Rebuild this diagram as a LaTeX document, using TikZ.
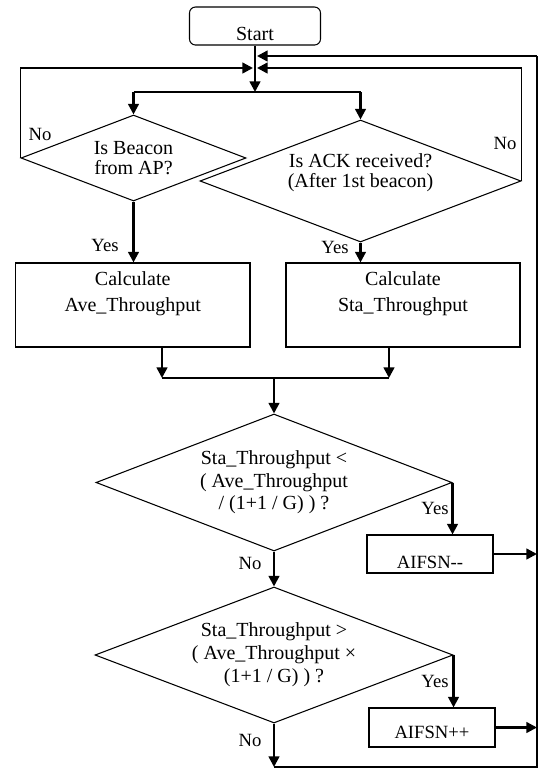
\documentclass[tikz,border=0pt]{standalone}
\usepackage{fontspec}
\setmainfont{Liberation Serif}
\usetikzlibrary{shapes.geometric,arrows.meta}

\tikzset{
  flow/.style={line width=1.8pt,-{Triangle[length=8pt,width=8pt]}},
  link/.style={line width=0.9pt},
  decision/.style={diamond,draw,line width=0.8pt,inner sep=0pt,aspect=2.6,align=center},
  calcbox/.style={rectangle,draw,line width=0.8pt,align=center},
  startbox/.style={rectangle,draw,rounded corners=4.5pt,line width=0.8pt,inner sep=0pt,text height=21pt,text depth=0pt},
  lbl/.style={inner sep=0pt,font=\fontsize{14}{14}\selectfont}
}

\begin{document}
\begin{tikzpicture}[x=0.75pt,y=0.75pt,yscale=-1,xscale=1,font=\fontsize{15}{15}\selectfont]
\useasboundingbox (0,0) rectangle (539,769);

%Shape: Rounded Rect
\node[startbox,minimum width=98.25pt,minimum height=28.5pt] (start) at (255,26) {Start};
%Shape: Diamond
\node[decision,minimum width=168.75pt,minimum height=64.5pt] (beacon) at (133.5,158) {Is Beacon\\[-0.5pt]from AP?};
\node[decision,minimum width=240.75pt,minimum height=91.5pt] (ack) at (360.5,181) {Is ACK received?\\(After 1st beacon)\\~};
%Shape: Rectangle
\node[calcbox,minimum width=175.9pt,minimum height=63pt] (avecalc) at (132.75,305) {Calculate\\[4.5pt]Ave\_Throughput\\[4.5pt]~};
\node[calcbox,minimum width=175.5pt,minimum height=63pt] (stacalc) at (403,305) {Calculate\\[4.5pt]Sta\_Throughput\\[4.5pt]~};
%Shape: Diamond
\node[decision,minimum width=267pt,minimum height=102.75pt] (lower) at (274,482.5) {Sta\_Throughput <\\[1.9pt]( Ave\_Throughput\\[1.9pt]/ (1+1 / G) ) ?};
\node[decision,minimum width=268.5pt,minimum height=102pt] (upper) at (274,655) {Sta\_Throughput >\\[2.2pt]( Ave\_Throughput ×\\[2.2pt](1+1 / G) ) ?};
%Shape: Rectangle
\node[calcbox,minimum width=94.5pt,minimum height=28.5pt,inner sep=0pt,text height=21pt,text depth=0pt,font=\fontsize{14}{14}\selectfont] (dec) at (430,554) {AIFSN-{}-};
\node[calcbox,minimum width=94.5pt,minimum height=29.25pt,inner sep=0pt,text height=16pt,text depth=0pt,font=\fontsize{14}{14}\selectfont] (inc) at (432,727.5) {AIFSN++};

% junctions
\coordinate (split) at (255,92);
\coordinate (mergeL) at (253,68);
\coordinate (mergeR) at (257,68);
\coordinate (mergeTop) at (257,56);
\coordinate (loopTop) at (537,56);
\coordinate (loopEnd) at (274,767);
\coordinate (join) at (274,378);
\coordinate (aveout) at (162,347);
\coordinate (staout) at (389,347);

%Straight Lines
\draw[flow] (start.south) -- (split);
\draw[link] (beacon.north |- split) -- (ack.north |- split);
\draw[flow] (beacon.north |- split) -- (beacon.north);
\draw[flow] (ack.north |- split) -- (ack.north);
% No loops back to the top
\draw[link] (beacon.west) -- (beacon.west |- mergeL);
\draw[flow] (beacon.west |- mergeL) -- (mergeL);
\draw[link] (ack.east) -- (ack.east |- mergeR);
\draw[flow] (ack.east |- mergeR) -- (mergeR);
%Straight Lines
\draw[flow] (beacon.south) -- (beacon.south |- avecalc.north);
\draw[flow] (ack.south) -- (ack.south |- stacalc.north);
\draw[flow] (aveout) -- (aveout |- join);
\draw[flow] (staout) -- (staout |- join);
\draw[link] (aveout |- join) -- (staout |- join);
\draw[flow] (join) -- (lower.north);
\draw[flow] (lower.east) -- (lower.east |- dec.north);
\draw[flow] (lower.south) -- (upper.north);
\draw[flow] (upper.east) -- (upper.east |- inc.north);
\draw[flow] (upper.south) -- (loopEnd);
\draw[flow] (dec.east) -- (dec.east -| loopTop);
\draw[flow] (inc.east) -- (inc.east -| loopTop);
% outer loop
\draw[link] (loopEnd) -- (loopEnd -| loopTop) -- (loopTop);
\draw[flow] (loopTop) -- (mergeTop);

% Text Node
\node[lbl] (yesA) at (105,245) {Yes};
\node[lbl] (yesB) at (335,247) {Yes};
\node[lbl] (noA) at (40,134) {No};
\node[lbl] (noB) at (505,143) {No};
\node[lbl] (yesC) at (435,508) {Yes};
\node[lbl] (noC) at (250,563) {No};
\node[lbl] (yesD) at (435,681) {Yes};
\node[lbl] (noD) at (250,740) {No};

\end{tikzpicture}
\end{document}
